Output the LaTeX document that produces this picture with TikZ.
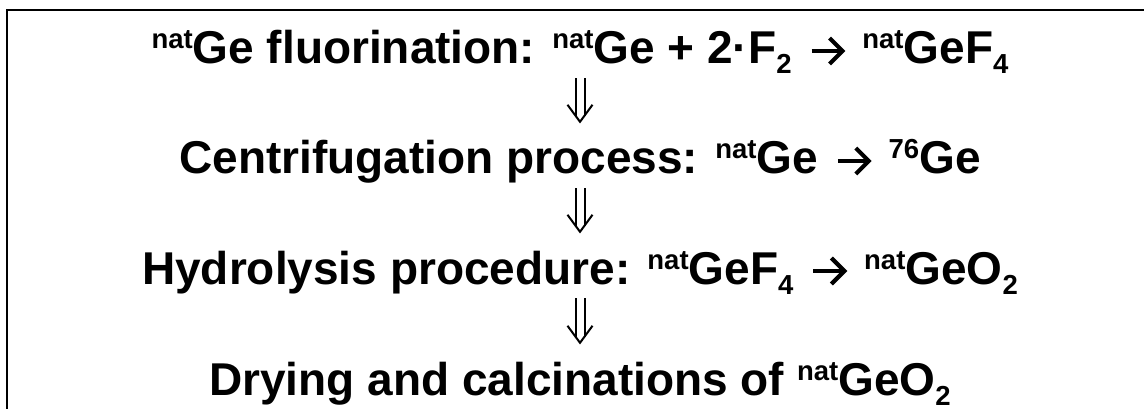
\documentclass[tikz,border=0pt]{standalone}
\usepackage{fontspec}
\setmainfont{Liberation Sans}
\usetikzlibrary{arrows.meta}
\newcommand\isup[1]{\raisebox{15pt}{\fontsize{27.5}{28}\selectfont #1}}
\newcommand\isub[1]{\raisebox{-10pt}{\fontsize{27.5}{28}\selectfont #1}}
\newcommand\rarr{\hspace{5pt}\tikz[baseline={(0pt,-13pt)}]{\draw[line width=4.2pt, line cap=butt] (0pt,0pt) -- (30pt,0pt);\draw[line width=4.2pt, line join=miter] (18pt,13pt) -- (31pt,0pt) -- (18pt,-13pt);}\hspace{5pt}}
\begin{document}
\begin{tikzpicture}[x=1pt,y=-1pt,
  lbl/.style={font=\fontsize{46}{50}\selectfont\bfseries, inner sep=0pt, anchor=base, text height=34pt, text depth=12pt},
  shaft/.style={line width=2pt}]
\useasboundingbox (0,0) rectangle (1144,409);
\draw[line width=2pt] (7,409) -- (7,10) -- (1144,10);
\node[lbl] (l1) at (580,64) {\isup{nat}Ge fluorination: \isup{nat}Ge + 2·F\isub{2} \rarr{} \isup{nat}GeF\isub{4}};
\node[lbl] (l2) at (580,174) {Centrifugation process: \isup{nat}Ge \rarr{} \isup{76}Ge};
\node[lbl] (l3) at (580,284) {Hydrolysis procedure: \isup{nat}GeF\isub{4} \rarr{} \isup{nat}GeO\isub{2}};
\node[lbl] (l4) at (580,395) {Drying and calcinations of \isup{nat}GeO\isub{2}};
\foreach \a/\b in {l1/l2, l2/l3, l3/l4}{
  \draw[shaft] ([shift={(-4.5pt,-2pt)}]\a.south) -- ([shift={(-4.5pt,24pt)}]\b.north);
  \draw[shaft] ([shift={(4.5pt,-2pt)}]\a.south) -- ([shift={(4.5pt,24pt)}]\b.north);
  \draw[shaft] ([shift={(-12.5pt,35pt)}]\b.north) -- ([yshift=18pt]\b.north) -- ([shift={(12.5pt,35pt)}]\b.north);
}
\end{tikzpicture}
\end{document}
